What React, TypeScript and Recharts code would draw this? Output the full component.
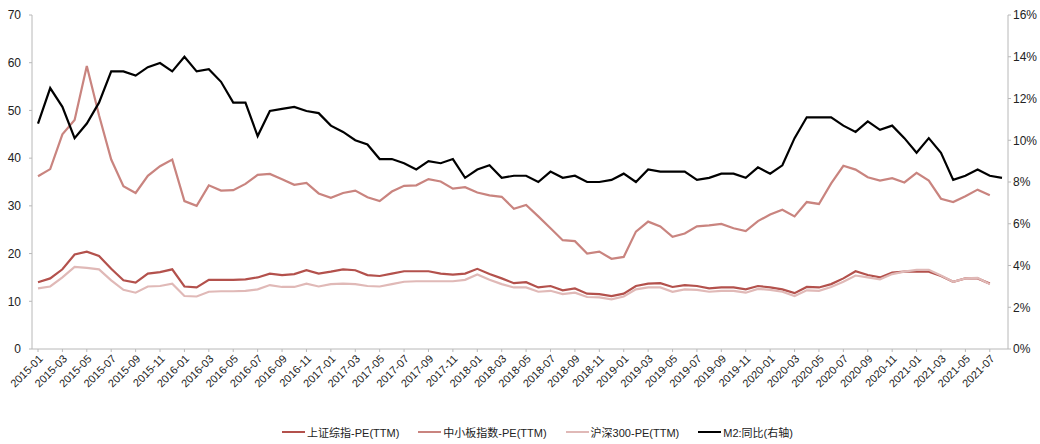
import { LineChart, Line, XAxis, YAxis, Legend } from "recharts"

const months = [
  "2015-01", "2015-02", "2015-03", "2015-04", "2015-05", "2015-06", "2015-07", "2015-08", "2015-09", "2015-10", "2015-11", "2015-12",
  "2016-01", "2016-02", "2016-03", "2016-04", "2016-05", "2016-06", "2016-07", "2016-08", "2016-09", "2016-10", "2016-11", "2016-12",
  "2017-01", "2017-02", "2017-03", "2017-04", "2017-05", "2017-06", "2017-07", "2017-08", "2017-09", "2017-10", "2017-11", "2017-12",
  "2018-01", "2018-02", "2018-03", "2018-04", "2018-05", "2018-06", "2018-07", "2018-08", "2018-09", "2018-10", "2018-11", "2018-12",
  "2019-01", "2019-02", "2019-03", "2019-04", "2019-05", "2019-06", "2019-07", "2019-08", "2019-09", "2019-10", "2019-11", "2019-12",
  "2020-01", "2020-02", "2020-03", "2020-04", "2020-05", "2020-06", "2020-07", "2020-08", "2020-09", "2020-10", "2020-11", "2020-12",
  "2021-01", "2021-02", "2021-03", "2021-04", "2021-05", "2021-06", "2021-07", "2021-08",
]

// 上证综指-PE(TTM), 2015-01 .. 2021-07
const shComposite = [
  14.0, 14.8, 16.7, 19.8, 20.4, 19.5, 16.8, 14.4, 13.9, 15.8, 16.1, 16.7,
  13.1, 12.9, 14.5, 14.5, 14.5, 14.6, 15.0, 15.8, 15.5, 15.7, 16.5, 15.8,
  16.2, 16.7, 16.5, 15.5, 15.3, 15.8, 16.3, 16.3, 16.3, 15.8, 15.6, 15.8,
  16.8, 15.7, 14.8, 13.8, 14.0, 12.9, 13.2, 12.3, 12.7, 11.6, 11.5, 11.1,
  11.6, 13.2, 13.7, 13.8, 13.0, 13.4, 13.2, 12.7, 12.9, 12.9, 12.5, 13.2,
  12.9, 12.5, 11.7, 13.0, 12.9, 13.6, 14.8, 16.3, 15.5, 15.0, 16.0, 16.2,
  16.2, 16.2, 15.3, 14.1, 14.8, 14.8, 13.7,
]

// 中小板指数-PE(TTM)
const smeBoard = [
  36.2, 37.7, 45.0, 48.0, 59.3, 49.0, 39.7, 34.1, 32.7, 36.3, 38.3, 39.7,
  31.0, 30.0, 34.3, 33.2, 33.3, 34.6, 36.5, 36.7, 35.6, 34.4, 34.8, 32.6,
  31.7, 32.7, 33.2, 31.8, 31.0, 33.0, 34.2, 34.3, 35.6, 35.1, 33.6, 33.9,
  32.8, 32.2, 31.9, 29.4, 30.2, 27.8, 25.3, 22.8, 22.6, 20.0, 20.4, 18.9,
  19.3, 24.6, 26.7, 25.7, 23.5, 24.2, 25.7, 25.9, 26.2, 25.3, 24.7, 26.8,
  28.2, 29.2, 27.8, 30.8, 30.4, 34.7, 38.4, 37.6, 36.0, 35.3, 35.8, 34.9,
  36.9, 35.3, 31.5, 30.8, 32.0, 33.4, 32.2,
]

// 沪深300-PE(TTM)
const csi300 = [
  12.7, 13.1, 15.0, 17.2, 17.0, 16.7, 14.4, 12.4, 11.8, 13.1, 13.2, 13.7,
  11.1, 11.0, 12.0, 12.1, 12.1, 12.2, 12.5, 13.4, 13.0, 13.0, 13.7, 13.1,
  13.6, 13.7, 13.6, 13.2, 13.1, 13.6, 14.1, 14.2, 14.2, 14.2, 14.2, 14.5,
  15.6, 14.5, 13.6, 12.9, 12.9, 12.0, 12.2, 11.5, 11.8, 10.9, 10.8, 10.4,
  11.0, 12.5, 12.9, 12.9, 12.0, 12.5, 12.4, 12.0, 12.2, 12.2, 11.8, 12.6,
  12.4, 12.0, 11.1, 12.3, 12.2, 13.0, 14.1, 15.4, 15.0, 14.6, 15.7, 16.2,
  16.6, 16.6, 15.4, 14.1, 14.8, 14.9, 13.6,
]

// M2:同比 (%), right axis, 2015-01 .. 2021-08
const m2Yoy = [
  10.8, 12.5, 11.6, 10.1, 10.8, 11.8, 13.3, 13.3, 13.1, 13.5, 13.7, 13.3,
  14.0, 13.3, 13.4, 12.8, 11.8, 11.8, 10.2, 11.4, 11.5, 11.6, 11.4, 11.3,
  10.7, 10.4, 10.0, 9.8, 9.1, 9.1, 8.9, 8.6, 9.0, 8.9, 9.1, 8.2,
  8.6, 8.8, 8.2, 8.3, 8.3, 8.0, 8.5, 8.2, 8.3, 8.0, 8.0, 8.1,
  8.4, 8.0, 8.6, 8.5, 8.5, 8.5, 8.1, 8.2, 8.4, 8.4, 8.2, 8.7,
  8.4, 8.8, 10.1, 11.1, 11.1, 11.1, 10.7, 10.4, 10.9, 10.5, 10.7, 10.1,
  9.4, 10.1, 9.4, 8.1, 8.3, 8.6, 8.3, 8.2,
]

const leftTicks = [0, 10, 20, 30, 40, 50, 60, 70]
const rightTicks = [0, 2, 4, 6, 8, 10, 12, 14, 16]

const series = [
  { key: "sh", name: "上证综指-PE(TTM)", color: "#b3514c", axis: "left" },
  { key: "sme", name: "中小板指数-PE(TTM)", color: "#c9847f", axis: "left" },
  { key: "hs", name: "沪深300-PE(TTM)", color: "#e0b9b7", axis: "left" },
  { key: "m2", name: "M2:同比(右轴)", color: "#000000", axis: "right" },
]

const data = months.map((m, i) => ({
  month: m,
  sh: shComposite[i],
  sme: smeBoard[i],
  hs: csi300[i],
  m2: m2Yoy[i],
}))

const FONT = '"Liberation Sans", Arial, "Noto Sans CJK SC", sans-serif'
const axisColor = "#b8b8b8"

function LegendContent() {
  return (
    <div
      style={{
        display: "flex",
        justifyContent: "center",
        alignItems: "center",
        height: 24,
        paddingLeft: 54,
        fontFamily: FONT,
        fontSize: 11,
        color: "#222",
      }}
    >
      {series.map((s) => (
        <div key={s.key} style={{ display: "flex", alignItems: "center", marginRight: 19 }}>
          <span style={{ display: "inline-block", width: 23, height: 2.5, background: s.color, marginRight: 2 }} />
          <span>{s.name}</span>
        </div>
      ))}
    </div>
  )
}

export default function App() {
  return (
    <div style={{ position: "fixed", left: 0, top: 0, width: 1040, height: 444, background: "#fff" }}>
      <LineChart width={1040} height={444} data={data} margin={{ top: 15, right: 0, bottom: 0, left: 0 }}>
        <XAxis
          dataKey="month"
          interval={1}
          padding={{ left: 6, right: 6 }}
          height={71}
          angle={-45}
          textAnchor="end"
          tick={{ fontSize: 11, fill: "#222", fontFamily: FONT }}
          tickSize={3}
          tickMargin={2}
          stroke={axisColor}
        />
        <YAxis
          yAxisId="left"
          width={32}
          domain={[0, 70]}
          ticks={leftTicks}
          tick={{ fontSize: 12, fill: "#222", fontFamily: FONT }}
          tickSize={3}
          tickMargin={8}
          stroke={axisColor}
        />
        <YAxis
          yAxisId="right"
          orientation="right"
          width={32}
          domain={[0, 16]}
          ticks={rightTicks}
          tickFormatter={(v) => `${v}%`}
          tick={{ fontSize: 12, fill: "#222", fontFamily: FONT, textAnchor: "start" }}
          tickSize={3}
          tickMargin={2}
          stroke={axisColor}
        />
        {series.map((s) => (
          <Line
            key={s.key}
            yAxisId={s.axis}
            dataKey={s.key}
            name={s.name}
            type="linear"
            stroke={s.color}
            strokeWidth={2.2}
            dot={false}
            activeDot={false}
            isAnimationActive={false}
          />
        ))}
        <Legend verticalAlign="bottom" content={<LegendContent />} />
      </LineChart>
    </div>
  )
}
